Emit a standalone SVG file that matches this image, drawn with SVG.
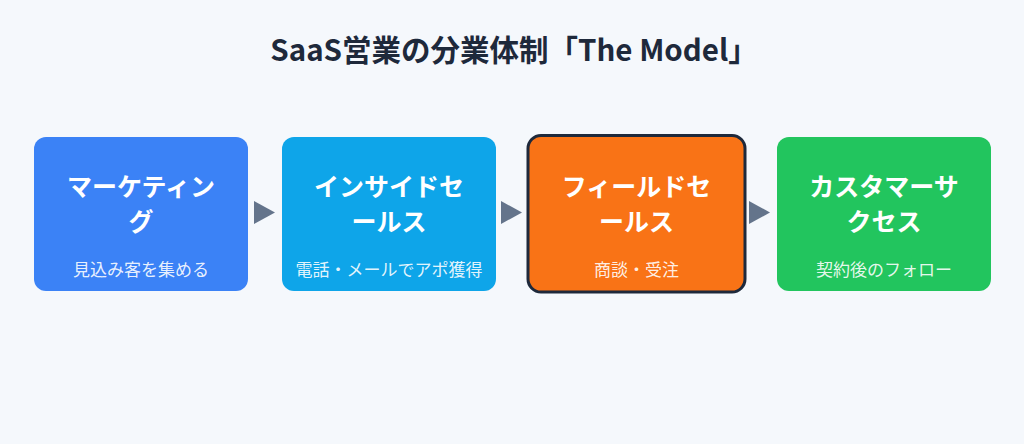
<svg xmlns="http://www.w3.org/2000/svg" width="1024" height="444" viewBox="0 0 1024 444">
<style>
.title{font-family:"Noto Sans CJK JP","Noto Sans",sans-serif;font-weight:700;font-size:29.5px;fill:#1e293b;text-anchor:middle}
.main{font-family:"Noto Sans CJK JP","Noto Sans",sans-serif;font-weight:700;font-size:25px;fill:#ffffff;text-anchor:middle}
.sub{font-family:"Noto Sans CJK JP","Noto Sans",sans-serif;font-size:17px;fill:#ffffff;fill-opacity:0.9;text-anchor:middle}
.arrow{fill:#64748b}
</style>
<rect width="1024" height="444" fill="#f5f8fc"/>
<text class="title" x="514" y="61">SaaS営業の分業体制「The Model」</text>
<g id="connectors">
<polygon class="arrow" points="254,201 275,212.5 254,224"/>
<polygon class="arrow" points="501,201 522,212.5 501,224"/>
<polygon class="arrow" points="749,201 770,212.5 749,224"/>
</g>
<g id="marketing">
<rect x="34" y="137" width="214" height="154" rx="12" fill="#3b82f6"/>
<text class="main" x="141" y="196">マーケティン</text>
<text class="main" x="141" y="231">グ</text>
<text class="sub" x="141" y="276">見込み客を集める</text>
</g>
<g id="inside-sales">
<rect x="282" y="137" width="214" height="154" rx="12" fill="#0ea5e9"/>
<text class="main" x="389" y="196">インサイドセ</text>
<text class="main" x="389" y="231">ールス</text>
<text class="sub" x="389" y="276">電話・メールでアポ獲得</text>
</g>
<g id="field-sales">
<rect x="528" y="135.5" width="217" height="156.5" rx="13" fill="#f97316" stroke="#1e293b" stroke-width="3"/>
<text class="main" x="636.5" y="196">フィールドセ</text>
<text class="main" x="636.5" y="231">ールス</text>
<text class="sub" x="636.5" y="276">商談・受注</text>
</g>
<g id="customer-success">
<rect x="777" y="137" width="214" height="154" rx="12" fill="#22c55e"/>
<text class="main" x="884" y="196">カスタマーサ</text>
<text class="main" x="884" y="231">クセス</text>
<text class="sub" x="884" y="276">契約後のフォロー</text>
</g>
</svg>
